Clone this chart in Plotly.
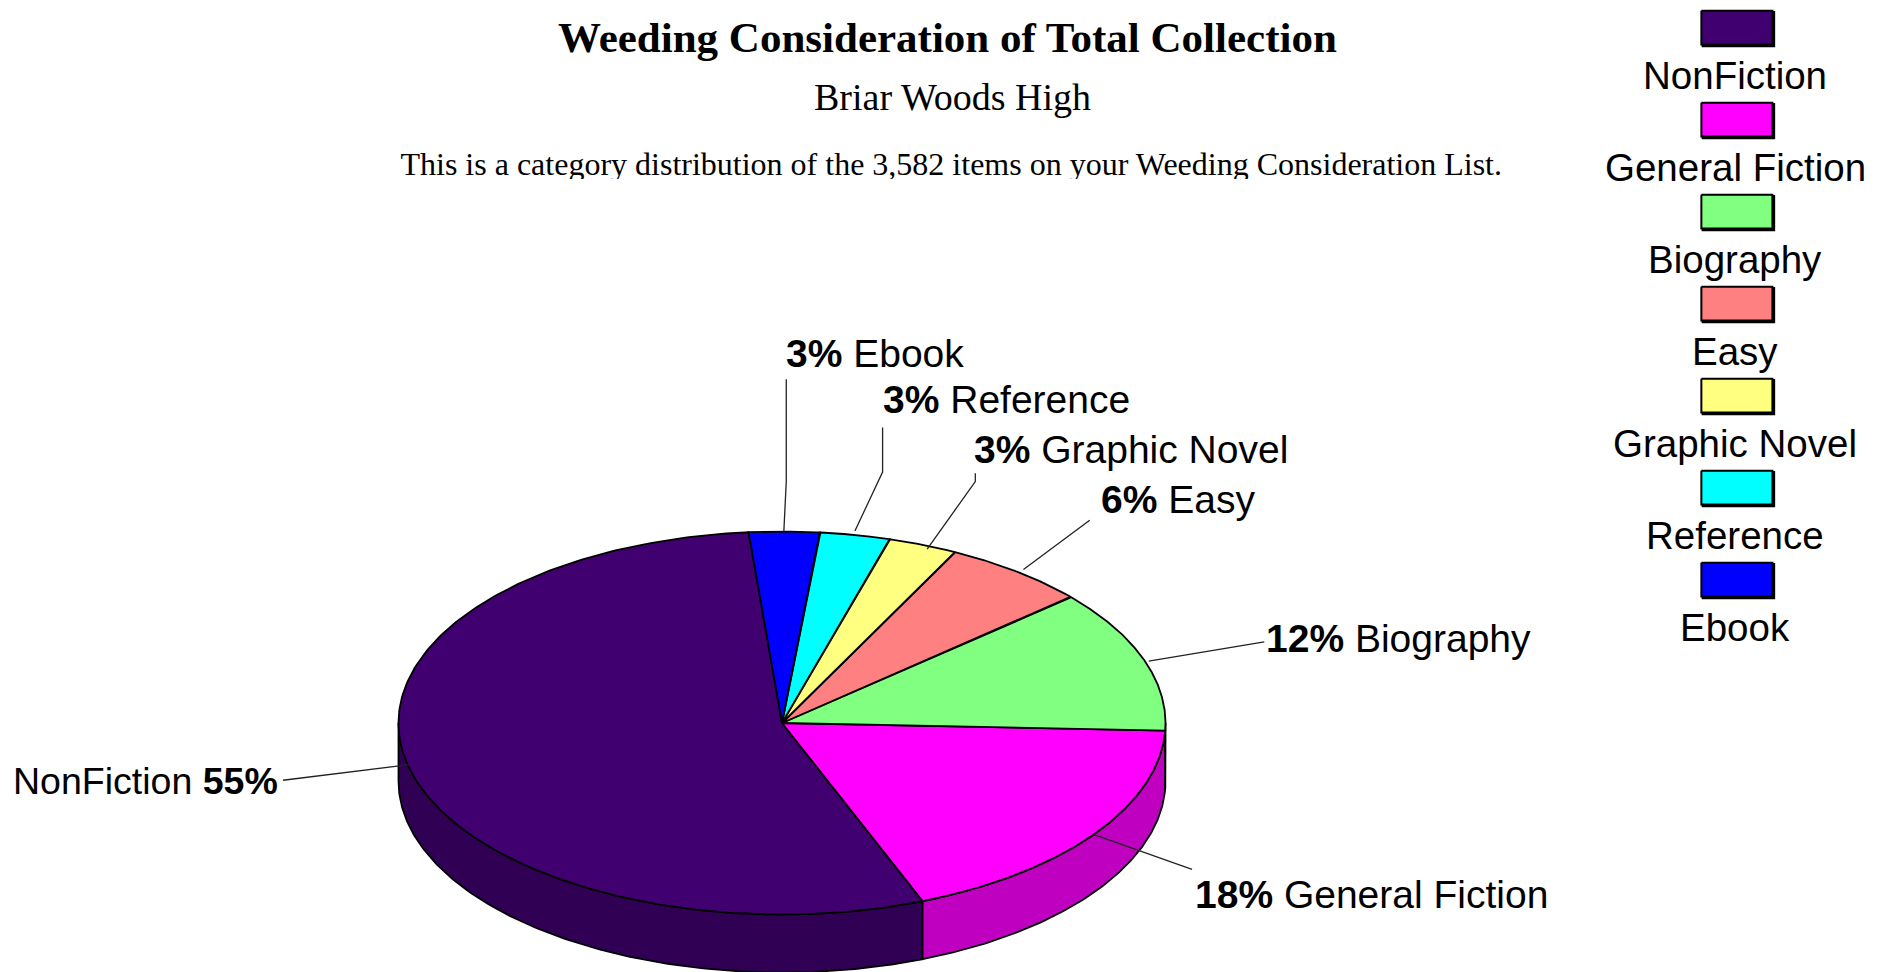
import numpy as np
import plotly.graph_objects as go

# ---- data ----
categories = ["NonFiction", "General Fiction", "Biography", "Easy", "Graphic Novel", "Reference", "Ebook"]
shares = [54.58, 18.39, 12.08, 6.11, 2.92, 2.95, 2.96]
percent_labels = ["55%", "18%", "12%", "6%", "3%", "3%", "3%"]
top_colors = ["#400070", "#ff00ff", "#80ff80", "#ff8080", "#ffff80", "#00ffff", "#0000ff"]
side_colors = ["#300054", "#c000c0", "#60c060", "#c06060", "#c0c060", "#00c0c0", "#0000c0"]

title = "Weeding Consideration of Total Collection"
subtitle = "Briar Woods High"
note = "This is a category distribution of the 3,582 items on your Weeding Consideration List."

# ---- layout geometry (pixels of the 1888x972 page) ----
W, H = 1888, 972
S = 1888 / 1568
CX, CY, RX, RY, DEPTH = 782.0, 723.0, 383.5, 191.5, 58.0
END_ANGLE = 355.0   # clockwise from 12 o'clock: where NonFiction ends

label_left = [9.5, 990.5, 1049.5, 912.5, 807.5, 731.5, 651.5]
label_mid = [648.5, 742.5, 530.5, 414.5, 373.5, 331.5, 293.5]
label_size = [37.5, 39, 39, 39, 39, 39, 39]
leaders = [
    [(235, 648), (340, 635)],
    [(908, 693), (990, 722)],
    [(954, 549), (1050, 533)],
    [(850, 473), (905, 432)],
    [(770, 456), (810, 400), (810, 393)],
    [(710, 441), (733, 392), (733, 355)],
    [(651, 441), (653, 400), (653, 315)],
]
SWATCH_X0, SWATCH_X1 = 1413, 1472
SWATCH_Y0, SWATCH_H, LEGEND_STEP, LEGEND_TEXT_OFFSET = 9, 28, 76.4, 53.7
LEGEND_CX = 1441


def pt(t):
    r = np.radians(t)
    return CX + RX * np.sin(r), CY - RY * np.cos(r)


# slices run counter-clockwise from END_ANGLE in list order
total = sum(shares)
spans = [v / total * 360 for v in shares]
starts = {}
t = END_ANGLE
for name, span in zip(categories, spans):
    starts[name] = (t - span, t)
    t -= span

fig = go.Figure()
LINE = dict(color="black", width=1.8)

# side walls: only the front half (90..270 deg) is visible
for name, side in zip(categories, side_colors):
    a, b = starts[name]
    for shift in (-360, 0, 360):
        lo, hi = max(a + shift, 90), min(b + shift, 270)
        if hi > lo:
            ts = np.linspace(lo, hi, 160)
            xs, ys = pt(ts)
            fig.add_trace(go.Scatter(
                x=np.r_[xs, xs[::-1], xs[0]], y=np.r_[ys, ys[::-1] + DEPTH, ys[0]],
                mode="lines", fill="toself", fillcolor=side, line=LINE, hoverinfo="skip"))

# top faces
for name, top in zip(categories, top_colors):
    a, b = starts[name]
    ts = np.linspace(a, b, 240)
    xs, ys = pt(ts)
    fig.add_trace(go.Scatter(
        x=np.r_[CX, xs, CX], y=np.r_[CY, ys, CY],
        mode="lines", fill="toself", fillcolor=top, line=LINE, hoverinfo="skip"))

# leader lines
for pts in leaders:
    fig.add_trace(go.Scatter(
        x=[p[0] * S for p in pts], y=[p[1] * S for p in pts], mode="lines",
        line=dict(color="#222222", width=1.3), hoverinfo="skip"))

# clipped note line is a text trace so the white band can cover its descenders
fig.add_trace(go.Scatter(x=[790 * S], y=[139 * S], mode="text", text=[note],
                         textposition="middle center",
                         textfont=dict(family="Liberation Serif", size=32, color="black"),
                         hoverinfo="skip"))

annotations = []
def text(x, y, s, size, family, anchor="center"):
    annotations.append(dict(x=x, y=y, xref="x", yref="y", text=s, showarrow=False,
                            xanchor=anchor, yanchor="middle",
                            font=dict(family=family, size=size, color="black")))

text(787 * S, 31.5 * S, f"<b>{title}</b>", 43, "Liberation Serif")
text(791 * S, 80.5 * S, subtitle, 38, "Liberation Serif")

# pie labels
for i, name in enumerate(categories):
    s = f"{name} <b>{percent_labels[i]}</b>" if i == 0 else f"<b>{percent_labels[i]}</b> {name}"
    text(label_left[i] * S, label_mid[i] * S, s, label_size[i], "Liberation Sans", "left")

# legend
for i, (name, top) in enumerate(zip(categories, top_colors)):
    y0 = SWATCH_Y0 + i * LEGEND_STEP
    x0, x1, y1 = SWATCH_X0, SWATCH_X1, y0 + SWATCH_H
    bx = [v * S for v in (x0, x1, x1, x0, x0)]
    by = [v * S for v in (y0, y0, y1, y1, y0)]
    fig.add_trace(go.Scatter(
        x=[v + 1.5 for v in bx], y=[v + 1.5 for v in by],
        mode="lines", line=dict(color="black", width=2.5), hoverinfo="skip"))
    fig.add_trace(go.Scatter(
        x=bx, y=by, mode="lines", fill="toself", fillcolor=top,
        line=dict(color="black", width=2), hoverinfo="skip"))
    text(LEGEND_CX * S, (y0 + LEGEND_TEXT_OFFSET) * S, name, 38.5, "Liberation Sans")

fig.update_layout(
    width=W, height=H, autosize=False, showlegend=False,
    margin=dict(l=0, r=0, t=0, b=0), paper_bgcolor="white", plot_bgcolor="white",
    xaxis=dict(range=[0, W], visible=False, fixedrange=True),
    yaxis=dict(range=[H, 0], visible=False, fixedrange=True),
    hovermode=False, annotations=annotations,
    shapes=[dict(type="rect", xref="x", yref="y", x0=380, x1=1530, y0=179, y1=195,
                 fillcolor="white", line=dict(width=0), layer="above")],
)
fig.write_html("out.html", config=dict(displayModeBar=False),
               post_script="document.body.style.margin='0';document.body.style.overflow='hidden';")
